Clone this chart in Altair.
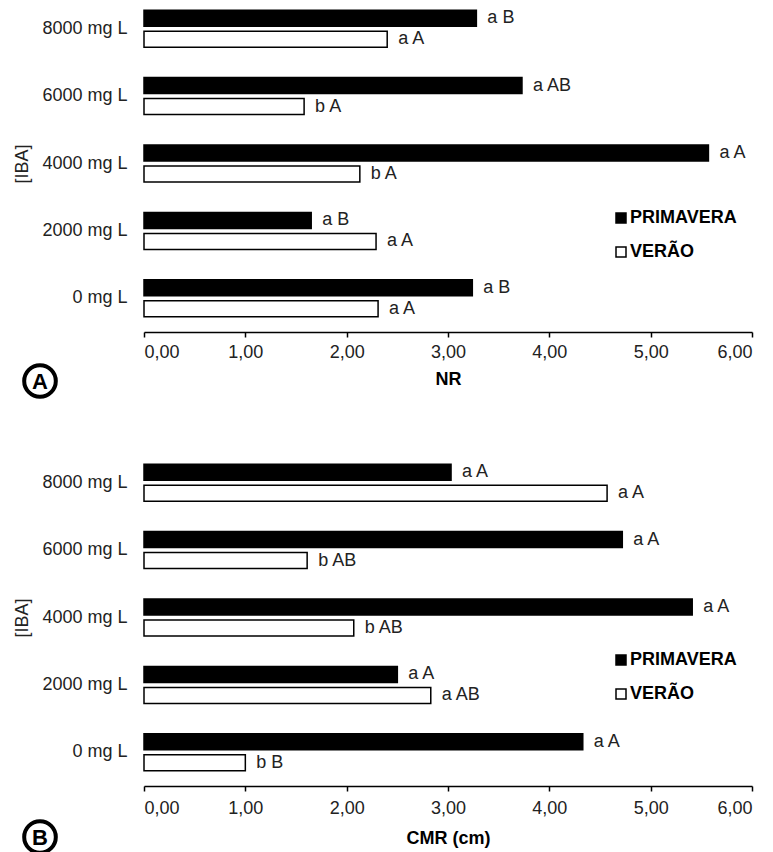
import altair as alt
import pandas as pd

categories = ["0 mg L", "2000 mg L", "4000 mg L", "6000 mg L", "8000 mg L"]
seasons = ["PRIMAVERA", "VERÃO"]

nr_primavera = [3.24, 1.65, 5.57, 3.73, 3.28]
nr_verao = [2.31, 2.29, 2.13, 1.58, 2.40]
nr_prim_letters = ["a B", "a B", "a A", "a AB", "a B"]
nr_ver_letters = ["a A", "a A", "b A", "b A", "a A"]

cmr_primavera = [4.33, 2.50, 5.41, 4.72, 3.03]
cmr_verao = [1.00, 2.83, 2.07, 1.61, 4.57]
cmr_prim_letters = ["a A", "a A", "a A", "a A", "a A"]
cmr_ver_letters = ["b B", "a AB", "b AB", "b AB", "a A"]

x_ticks = [0, 1, 2, 3, 4, 5, 6]

FONT = "Liberation Sans"
order = categories[::-1]


def make_df(prim, ver, lp, lv):
    rows = []
    for c, p, v, a, b in zip(categories, prim, ver, lp, lv):
        rows.append({"dose": c, "season": seasons[0], "value": p, "label": a})
        rows.append({"dose": c, "season": seasons[1], "value": v, "label": b})
    return pd.DataFrame(rows)


def panel(df, xtitle, letter, height, yrange, letter_y, legend_y, label_pad, title_pad):
    scale_kw = dict(paddingInner=0, paddingOuter=0)
    if yrange is not None:
        scale_kw["range"] = yrange
    y_enc = alt.Y(
        "dose:N", sort=order, scale=alt.Scale(**scale_kw),
        axis=alt.Axis(
            title="[IBA]", domain=False, ticks=False, tickSize=0, labelPadding=17,
            labelFont=FONT, labelFontSize=18, labelColor="#222",
            titleFont=FONT, titleFontSize=18, titleFontWeight="normal",
            titleColor="#222", titleX=-122, titleBaseline="middle",
        ),
    )
    yoff = alt.YOffset("season:N", sort=seasons,
                       scale=alt.Scale(paddingInner=0.238, paddingOuter=0.724))
    x_enc = alt.X(
        "value:Q", scale=alt.Scale(domain=[0, 6], nice=False),
        axis=alt.Axis(
            values=x_ticks, grid=False,
            labelExpr="replace(format(datum.value, '.2f'), '.', ',')",
            domainColor="black", domainWidth=1.5, tickColor="black", tickWidth=1.5,
            tickSize=5, labelPadding=label_pad, labelFont=FONT, labelFontSize=18,
            labelColor="#222", title=xtitle, titleFont=FONT, titleFontSize=18,
            titleFontWeight="bold", titleColor="black", titlePadding=title_pad,
        ),
    )
    bars = alt.Chart(df).mark_bar(stroke="black", strokeWidth=1.5).encode(
        x=x_enc, y=y_enc, yOffset=yoff,
        fill=alt.Fill(
            "season:N", sort=seasons,
            scale=alt.Scale(domain=seasons, range=["black", "white"]),
            legend=alt.Legend(
                title=None, orient="none", legendX=468, legendY=legend_y,
                symbolType="square", symbolSize=100, symbolStrokeColor="black",
                symbolStrokeWidth=1.5, labelFont=FONT, labelFontSize=18,
                labelFontWeight="bold", labelColor="black", labelOffset=0,
                rowPadding=16, padding=0,
            ),
        ),
    )
    texts = alt.Chart(df).mark_text(
        align="left", baseline="middle", dx=11, font=FONT, fontSize=18, color="#222"
    ).encode(
        x="value:Q", y=alt.Y("dose:N", sort=order), yOffset=alt.YOffset("season:N", sort=seasons),
        text="label:N",
    )
    ldf = pd.DataFrame({"t": [letter]})
    ring = alt.Chart(ldf).mark_point(
        shape="circle", size=1000, stroke="black", strokeWidth=4, filled=False, opacity=1
    ).encode(x=alt.value(-104), y=alt.value(letter_y))
    ltxt = alt.Chart(ldf).mark_text(
        font=FONT, fontSize=22, fontWeight="bold", color="black", baseline="middle", align="center"
    ).encode(x=alt.value(-104), y=alt.value(letter_y + 1), text="t:N")
    return alt.layer(bars, texts, ring, ltxt).properties(width=608, height=height)


dfA = make_df(nr_primavera, nr_verao, nr_prim_letters, nr_ver_letters)
dfB = make_df(cmr_primavera, cmr_verao, cmr_prim_letters, cmr_ver_letters)

pA = panel(dfA, "NR", "A", 324, [-13, 324], 373, 201, 6, 9)
pB = panel(dfB, "CMR (cm)", "B", 337, None, 388, 202, 8, 12)

chart = alt.vconcat(pA, pB, spacing=44).resolve_scale(
    fill="independent", x="independent", y="independent"
).resolve_legend(fill="independent").properties(
    padding={"left": 5, "top": 0, "right": 5, "bottom": 0}
).configure_view(stroke=None)

chart.save("out.html", embed_options={"renderer": "svg", "actions": False})
